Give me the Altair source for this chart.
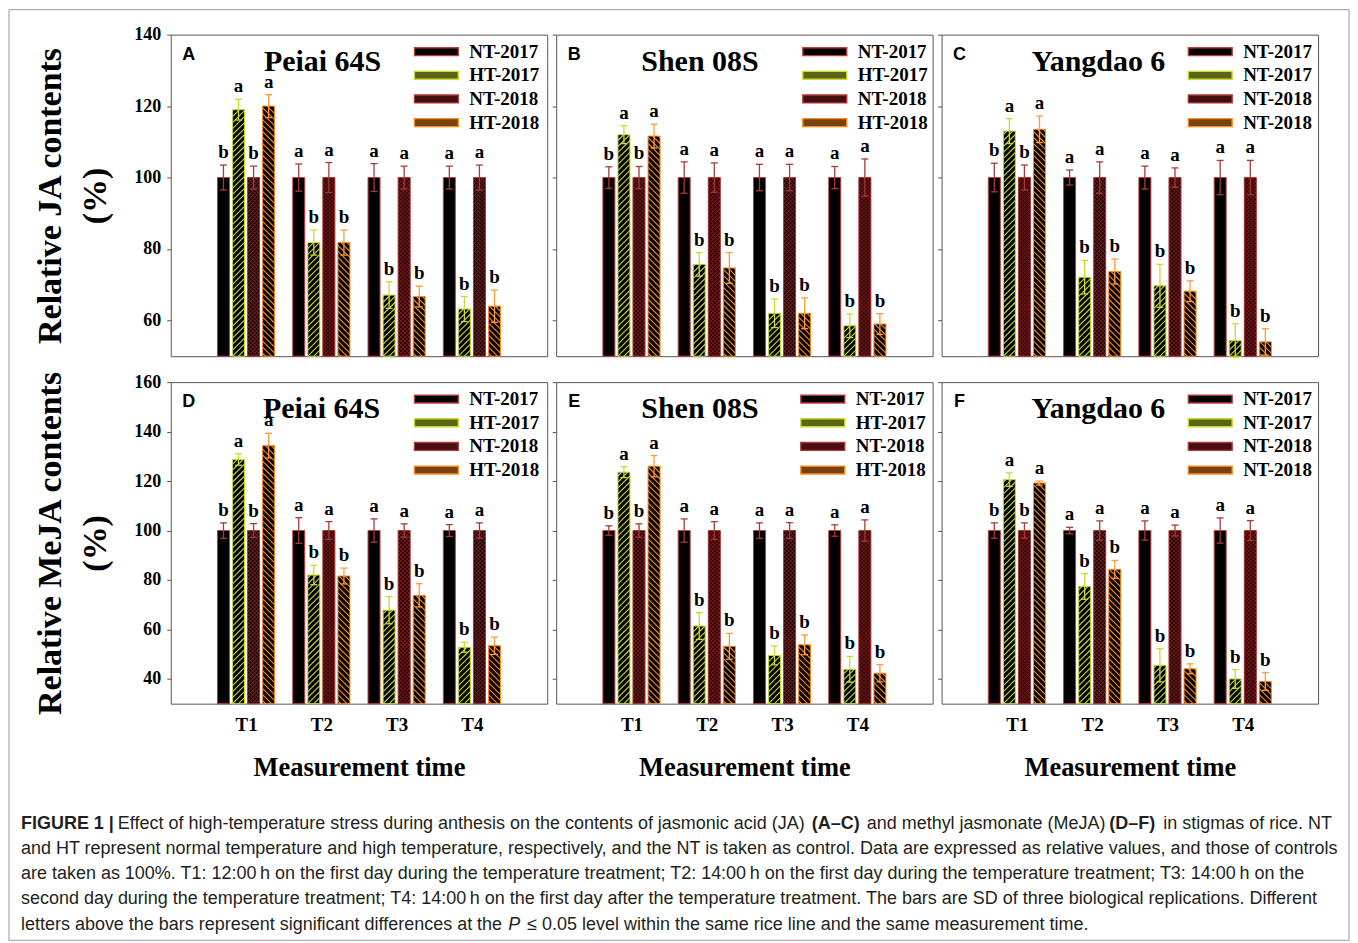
import altair as alt
import pandas as pd

SERIF = "Liberation Serif"
SANS = "Liberation Sans"

SERIES = ["NT-2017", "HT-2017", "NT-2018", "HT-2018"]
TIMES = ["T1", "T2", "T3", "T4"]
LETTERS_T1 = ["b", "a", "b", "a"]
LETTERS_OTHER = ["a", "b", "a", "b"]

JA_TICKS = [60, 80, 100, 120, 140]
MEJA_TICKS = [40, 60, 80, 100, 120, 140, 160]

# values: T1..T4, each as NT-2017, HT-2017, NT-2018, HT-2018
ja_peiai_val = [100, 119.0, 100, 120.0, 100, 81.8, 100, 81.8, 100, 67.1, 100, 66.7, 100, 63.2, 100, 64.0]
ja_peiai_err = [3.5, 2.9, 3.2, 3.2, 3.8, 3.5, 4.2, 3.5, 3.9, 3.7, 3.2, 2.9, 3.2, 3.5, 3.5, 4.5]
ja_shen_val = [100, 112.0, 100, 111.6, 100, 75.7, 100, 74.7, 100, 62.0, 100, 62.0, 100, 58.5, 100, 59.0]
ja_shen_err = [3.0, 2.5, 3.1, 3.3, 4.4, 3.3, 4.1, 4.3, 3.7, 4.0, 3.7, 4.3, 3.1, 3.3, 5.2, 2.9]
ja_yang_val = [100, 113.0, 100, 113.5, 100, 72.1, 100, 73.7, 100, 69.7, 100, 68.2, 100, 54.4, 100, 54.0]
ja_yang_err = [4.0, 3.5, 3.5, 3.7, 2.1, 4.7, 4.4, 3.5, 3.2, 6.0, 2.7, 2.9, 4.8, 4.7, 4.8, 3.7]
meja_peiai_val = [100, 128.7, 100, 134.3, 100, 82.0, 100, 81.6, 100, 67.8, 100, 73.8, 100, 52.8, 100, 53.4]
meja_peiai_err = [3.1, 2.3, 2.8, 5.0, 5.2, 3.9, 3.6, 3.2, 4.7, 5.5, 2.7, 4.7, 2.4, 2.0, 3.1, 3.5]
meja_shen_val = [100, 123.6, 100, 126.0, 100, 61.4, 100, 53.2, 100, 49.5, 100, 53.8, 100, 43.9, 100, 42.3]
meja_shen_err = [1.9, 2.2, 2.7, 4.3, 4.7, 5.4, 3.6, 5.2, 3.1, 3.8, 3.2, 4.0, 2.3, 5.2, 4.3, 3.5]
meja_yang_val = [100, 120.6, 100, 119.2, 100, 77.4, 100, 84.3, 100, 45.5, 100, 44.1, 100, 40.0, 100, 39.0]
meja_yang_err = [3.1, 2.7, 3.1, 0.8, 1.3, 5.2, 3.9, 3.6, 3.9, 6.7, 2.2, 2.0, 5.1, 3.8, 4.0, 3.6]

CAPTION_L1 = [("bold", "FIGURE 1 |", 20),
              ("normal", "Effect of high-temperature stress during anthesis on the contents of jasmonic acid (JA)", 117),
              ("bold", "(A\u2013C)", 812),
              ("normal", "and methyl jasmonate (MeJA)", 867),
              ("bold", "(D\u2013F)", 1110),
              ("normal", "in stigmas of rice. NT", 1164)]
CAPTION_L2 = "and HT represent normal temperature and high temperature, respectively, and the NT is taken as control. Data are expressed as relative values, and those of controls"
CAPTION_L3 = "are taken as 100%. T1: 12:00\u2009h on the first day during the temperature treatment; T2: 14:00\u2009h on the first day during the temperature treatment; T3: 14:00\u2009h on the"
CAPTION_L4 = "second day during the temperature treatment; T4: 14:00\u2009h on the first day after the temperature treatment. The bars are SD of three biological replications. Different"
CAPTION_L5 = [("normal", "letters above the bars represent significant differences at the", 20),
              ("italic", "P", 508),
              ("normal", "\u2264 0.05 level within the same rice line and the same measurement time.", 527)]

# styles
EDGE = {"NT-2017": "#c23b3b", "HT-2017": "#c9db2e", "NT-2018": "#b33636", "HT-2018": "#ff8c1a"}
ERRC = {"NT-2017": "#a83a3a", "HT-2017": "#c9db2e", "NT-2018": "#a83a3a", "HT-2018": "#ff9a3a"}
HATCH = {"NT-2017": "#000000", "HT-2017": "#c9db2e", "NT-2018": "#761717", "HT-2018": "#ff8c1a"}
LEGEND_FILL = ["#000000", "#5a6616", "#450e10", "#784312"]

PW, PH = 377, 322
BARW = 12.0
ONE = pd.DataFrame({"k": [0]})


def make_df(vals, errs):
    rows = []
    for ti, t in enumerate(TIMES):
        lets = LETTERS_T1 if ti == 0 else LETTERS_OTHER
        for si, s in enumerate(SERIES):
            i = ti * 4 + si
            rows.append(dict(time=t, g=ti + 1, series=s, s=si, val=vals[i], err=errs[i],
                             letter=lets[si], edge=EDGE[s], errc=ERRC[s], hcol=HATCH[s]))
    return pd.DataFrame(rows)


def txt(s, x, y, **kw):
    return alt.Chart(ONE).mark_text(**kw).encode(x=alt.value(x), y=alt.value(y), text=alt.value(s))


def panel(vals, errs, tag, name, name_x, ymin, ymax, ticks, bottom, first, ylabel, swap, legx, extra=None):
    PX = PW / 5.0
    PY = PH / float(ymax - ymin)
    df = make_df(vals, errs)
    xsc = alt.Scale(domain=[0, 5], nice=False, zero=False)
    ysc = alt.Scale(domain=[ymin, ymax], nice=False, zero=False)
    if bottom:
        xax = alt.Axis(values=[1, 2, 3, 4], labelExpr="'T' + datum.value", ticks=False, tickSize=0,
                       labelPadding=21, labelBaseline="middle", labelFontSize=19,
                       title="Measurement time", titleFont=SERIF, titleFontWeight="bold",
                       titleFontSize=26.5, titleY=64, titleBaseline="middle")
    else:
        xax = None
    if first:
        yax = alt.Axis(values=ticks, tickSize=4, labelPadding=6, labelFontSize=18,
                       title=[ylabel, "(%)"], titleX=-120, titleY=PH / 2, titleAngle=270,
                       titleAlign="center", titleBaseline="middle", titleFontSize=34,
                       titleFont=SERIF, titleFontWeight="bold", titleLineHeight=45)
    else:
        yax = alt.Axis(values=ticks, tickSize=4, labels=False, title=None)

    def X(f):
        return alt.X(f, type="quantitative", scale=xsc, axis=xax)

    def Y(f):
        return alt.Y(f, type="quantitative", scale=ysc, axis=yax)

    base = alt.Chart(df).transform_calculate(
        xc="datum.g + (datum.s - 1.5) * 0.2"
    ).transform_calculate(
        xl=f"datum.xc - {BARW / 2 / PX}",
        xr=f"datum.xc + {BARW / 2 / PX}",
        base=f"{ymin}",
        hi="datum.val + datum.err",
        lo="datum.val - datum.err",
        cl=f"datum.xc - {3.5 / PX}",
        cr=f"datum.xc + {3.5 / PX}",
    )

    bars = base.mark_rect(fill="black", strokeWidth=0).encode(x=X("xl"), x2="xr:Q", y=Y("val"), y2="base:Q")

    hatch = base.transform_filter("datum.s > 0").transform_calculate(
        d="datum.s == 1 ? [1] : (datum.s == 2 ? [1, -1] : [-1])"
    ).transform_flatten(["d"]).transform_calculate(
        sp="datum.s == 2 ? 4 : 6",
        k="sequence(0, 100)"
    ).transform_flatten(["k"]).transform_calculate(
        H=f"(datum.val - datum.base) * {PY}",
        c=f"-{BARW} + datum.k * datum.sp + (datum.d < 0 ? datum.sp / 2 : 0)"
    ).transform_calculate(
        u0="max(0, -datum.c)",
        u1=f"min({BARW}, datum.H - datum.c)"
    ).transform_filter("datum.u1 > datum.u0").transform_calculate(
        ua=f"datum.d > 0 ? datum.u0 : {BARW} - datum.u0",
        ub=f"datum.d > 0 ? datum.u1 : {BARW} - datum.u1",
        ta="datum.u0 + datum.c",
        tb="datum.u1 + datum.c",
    ).transform_calculate(
        hx0=f"datum.xl + datum.ua / {PX}",
        hx1=f"datum.xl + datum.ub / {PX}",
        hy0=f"datum.base + datum.ta / {PY}",
        hy1=f"datum.base + datum.tb / {PY}",
    ).mark_rule(strokeWidth=1.1).encode(
        x=X("hx0"), x2="hx1:Q", y=Y("hy0"), y2="hy1:Q",
        color=alt.Color("hcol:N", scale=None)
    )

    outline = base.mark_rect(filled=False, strokeWidth=1).encode(
        x=X("xl"), x2="xr:Q", y=Y("val"), y2="base:Q", color=alt.Color("edge:N", scale=None))

    ebar = base.mark_rule(strokeWidth=1.3).encode(
        x=X("xc"), y=Y("lo"), y2="hi:Q", color=alt.Color("errc:N", scale=None))
    cap_hi = base.mark_rule(strokeWidth=1.3).encode(
        x=X("cl"), x2="cr:Q", y=Y("hi"), color=alt.Color("errc:N", scale=None))
    cap_lo = base.mark_rule(strokeWidth=1.3).encode(
        x=X("cl"), x2="cr:Q", y=Y("lo"), color=alt.Color("errc:N", scale=None))

    letters = base.mark_text(font=SERIF, fontWeight="bold", fontSize=19, baseline="bottom",
                             dy=-3, color="black").encode(x=X("xc"), y=Y("hi"), text="letter:N")

    leg = alt.Legend(orient="none", legendX=legx, legendY=7, title=None,
                     symbolType="M-1,-0.18L1,-0.18L1,0.18L-1,0.18Z", symbolSize=1936,
                     symbolStrokeWidth=1.4, symbolOpacity=1, clipHeight=20, rowPadding=3.7,
                     labelOffset=10, padding=0, labelFont=SERIF, labelFontWeight="bold",
                     labelFontSize=19, labelColor="black",
                     labelExpr=("replace(datum.label, 'HT', 'NT')" if swap else "datum.label"))
    legend_layer = base.transform_filter("datum.g == 1").mark_square(size=0, opacity=1).encode(
        x=X("xc"), y=Y("val"),
        fill=alt.Fill("series:N", scale=alt.Scale(domain=SERIES, range=LEGEND_FILL), legend=leg),
        stroke=alt.Stroke("series:N", scale=alt.Scale(domain=SERIES, range=[EDGE[s] for s in SERIES]), legend=leg),
    )

    tag_t = txt(tag, 18, 20, font=SANS, fontWeight="bold", fontSize=18, align="center", baseline="middle", color="black")
    name_t = txt(name, name_x, 27, font=SERIF, fontWeight="bold", fontSize=30, align="center", baseline="middle", color="black")

    layers = [bars, hatch, outline, ebar, cap_hi, cap_lo, letters, legend_layer, tag_t, name_t]
    if extra:
        layers += extra
    return alt.layer(*layers).properties(width=PW, height=PH)


# caption + outer frame, placed relative to panel D's plot origin (page 170, 381)
OX, OY = 170, 381
cap_layers = [alt.Chart(ONE).mark_rect(fillOpacity=0, stroke="#9a9a9a", strokeWidth=1).encode(
    x=alt.value(8 - OX), x2=alt.value(1350 - OX), y=alt.value(8 - OY), y2=alt.value(940 - OY))]
CAP_Y = [824, 849, 874, 899, 925]
CAP_STYLE = dict(font=SANS, fontSize=18, align="left", baseline="middle", color="#231f20")


def cap_seg(style, s, x, y):
    kw = dict(CAP_STYLE)
    if style == "bold":
        kw["fontWeight"] = "bold"
    if style == "italic":
        kw["fontStyle"] = "italic"
    return txt(s, x - OX, y - OY, **kw)


for st, s, x in CAPTION_L1:
    cap_layers.append(cap_seg(st, s, x, CAP_Y[0]))
cap_layers.append(cap_seg("normal", CAPTION_L2, 20, CAP_Y[1]))
cap_layers.append(cap_seg("normal", CAPTION_L3, 20, CAP_Y[2]))
cap_layers.append(cap_seg("normal", CAPTION_L4, 20, CAP_Y[3]))
for st, s, x in CAPTION_L5:
    cap_layers.append(cap_seg(st, s, x, CAP_Y[4]))

pA = panel(ja_peiai_val, ja_peiai_err, "A", "Peiai 64S", 152, 50, 140, JA_TICKS, False, True, "Relative JA contents", False, 243)
pB = panel(ja_shen_val, ja_shen_err, "B", "Shen 08S", 144, 50, 140, JA_TICKS, False, False, "", False, 246)
pC = panel(ja_yang_val, ja_yang_err, "C", "Yangdao 6", 157, 50, 140, JA_TICKS, False, False, "", True, 246)
pD = panel(meja_peiai_val, meja_peiai_err, "D", "Peiai 64S", 151, 30, 160, MEJA_TICKS, True, True, "Relative MeJA contents", False, 243, extra=cap_layers)
pE = panel(meja_shen_val, meja_shen_err, "E", "Shen 08S", 144, 30, 160, MEJA_TICKS, True, False, "", False, 244)
pF = panel(meja_yang_val, meja_yang_err, "F", "Yangdao 6", 157, 30, 160, MEJA_TICKS, True, False, "", True, 246)

chart = alt.concat(pA, pB, pC, pD, pE, pF, columns=3, spacing={"row": 26, "column": 9},
                   bounds="flush").resolve_scale(
    fill="independent", stroke="independent").resolve_legend(
    fill="independent", stroke="independent").properties(
    padding=0, background="white").configure_view(stroke="#555555", strokeWidth=1).configure_axis(
    grid=False, domain=False, tickColor="#555555", labelFont=SERIF, labelFontWeight="bold",
    labelColor="black", titleColor="black")

chart.save("out.html", embed_options={"renderer": "svg", "actions": False})
